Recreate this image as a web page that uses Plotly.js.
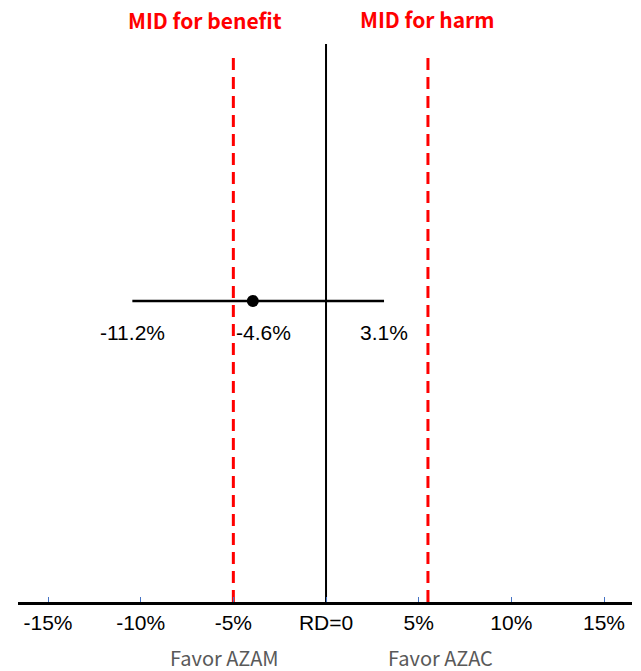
<!DOCTYPE html>
<html><head><meta charset="utf-8">
<script src="https://cdn.plot.ly/plotly-3.0.1.min.js"></script>
<style>html,body{margin:0;padding:0;background:#fff}</style>
</head><body>
<div id="chart" style="width:641px;height:671px"></div>
<script>
// Data
const tickVals = [-15, -10, -5, 0, 5, 10, 15];
const tickLabels = ['-15%', '-10%', '-5%', 'RD=0', '5%', '10%', '15%'];
const ciLower = -10.45;   // drawn position of lower CI end
const pointEst = -3.95;   // drawn position of point estimate
const ciUpper = 3.13;     // drawn position of upper CI end
const ciLabels = ['-11.2%', '-4.6%', '3.1%'];
const midBenefit = -5;
const midHarm = 5.5;
const midTitles = ['MID for benefit', 'MID for harm'];
const favorLabels = ['Favor AZAM', 'Favor AZAC'];

const rowY = 0.5;
const traces = [
  {x: [0, 0], y: [0, 0.927], mode: 'lines', line: {color: '#000', width: 2}, hoverinfo: 'skip'},
  {x: [midBenefit, midBenefit], y: [0, 0.914], mode: 'lines', line: {color: '#ff0000', width: 3, dash: '12px,7px'}, hoverinfo: 'skip'},
  {x: [midHarm, midHarm], y: [0, 0.914], mode: 'lines', line: {color: '#ff0000', width: 3, dash: '12px,7px'}, hoverinfo: 'skip'},
  {x: [ciLower, ciUpper], y: [rowY, rowY], mode: 'lines', line: {color: '#000', width: 2.5}, hoverinfo: 'skip'},
  {x: [pointEst], y: [rowY], mode: 'markers', marker: {color: '#000', size: 12}, hoverinfo: 'skip'}
];

const numFont = {family: 'Liberation Sans, Arial, sans-serif', size: 21, color: '#000'};
const titleFont = {family: 'Noto Sans CJK SC, sans-serif', size: 21, color: '#ff0000'};
const favorFont = {family: 'Noto Sans CJK SC, sans-serif', size: 20, color: '#595959'};
const annotations = [
  {x: ciLower, y: 0.447, text: ciLabels[0], showarrow: false, font: numFont, xanchor: 'center', yanchor: 'middle'},
  {x: pointEst, xshift: 11, y: 0.447, text: ciLabels[1], showarrow: false, font: numFont, xanchor: 'center', yanchor: 'middle'},
  {x: ciUpper, y: 0.447, text: ciLabels[2], showarrow: false, font: numFont, xanchor: 'center', yanchor: 'middle'},
  {x: -6.53, y: 0.967, text: '<b>' + midTitles[0] + '</b>', showarrow: false, font: titleFont, xanchor: 'center', yanchor: 'middle'},
  {x: 5.45, y: 0.968, text: '<b>' + midTitles[1] + '</b>', showarrow: false, font: titleFont, xanchor: 'center', yanchor: 'middle'},
  {x: -5.5, y: -0.093, yref: 'paper', text: favorLabels[0], showarrow: false, font: favorFont, xanchor: 'center', yanchor: 'middle'},
  {x: 6.2, y: -0.093, yref: 'paper', text: favorLabels[1], showarrow: false, font: favorFont, xanchor: 'center', yanchor: 'middle'}
];

const layout = {
  width: 641, height: 671,
  margin: {l: 18, r: 9, t: 0, b: 69},
  paper_bgcolor: '#fff', plot_bgcolor: '#fff',
  showlegend: false,
  xaxis: {
    range: [-16.62, 16.51], fixedrange: true,
    tickvals: tickVals, ticktext: tickLabels,
    ticks: 'inside', ticklen: 5, tickcolor: '#4472c4', tickwidth: 1,
    showline: true, linecolor: '#000', linewidth: 2.5,
    showgrid: false, zeroline: false,
    tickfont: {family: 'Liberation Sans, Arial, sans-serif', size: 21, color: '#000'}
  },
  yaxis: {range: [0, 1], visible: false, fixedrange: true},
  annotations: annotations
};
Plotly.newPlot('chart', traces, layout, {staticPlot: true, displayModeBar: false});
</script>
</body></html>
